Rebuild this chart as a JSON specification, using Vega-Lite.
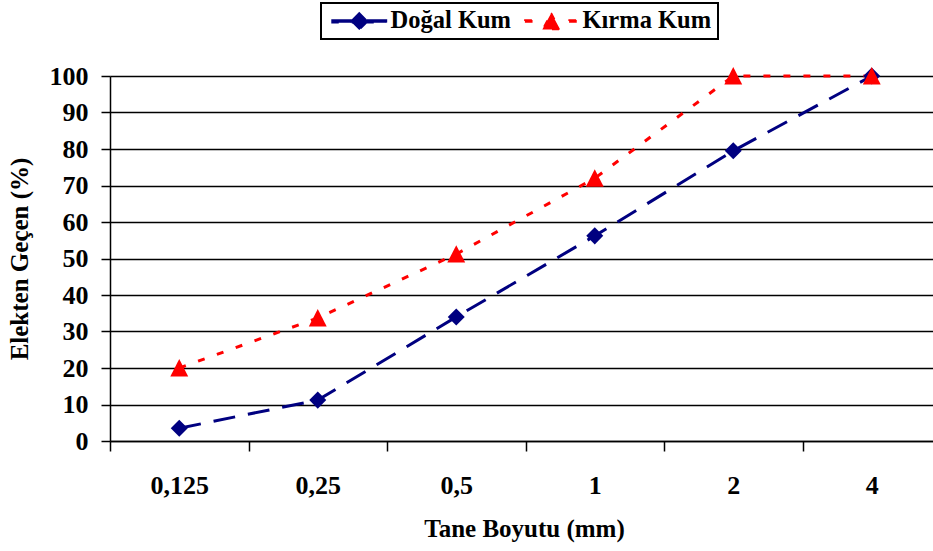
{
  "$schema": "https://vega.github.io/schema/vega-lite/v6.json",
  "width": 823,
  "height": 365,
  "autosize": {"type": "none"},
  "padding": {"left": 110, "top": 76, "right": 0, "bottom": 110},
  "background": "white",
  "data": {
    "values": [
      {"boyut": "0,125", "seri": "Doğal Kum", "gecen": 3.5},
      {"boyut": "0,25", "seri": "Doğal Kum", "gecen": 11.2},
      {"boyut": "0,5", "seri": "Doğal Kum", "gecen": 34},
      {"boyut": "1", "seri": "Doğal Kum", "gecen": 56.2},
      {"boyut": "2", "seri": "Doğal Kum", "gecen": 79.5},
      {"boyut": "4", "seri": "Doğal Kum", "gecen": 100},
      {"boyut": "0,125", "seri": "Kırma Kum", "gecen": 20},
      {"boyut": "0,25", "seri": "Kırma Kum", "gecen": 33.7},
      {"boyut": "0,5", "seri": "Kırma Kum", "gecen": 51.2},
      {"boyut": "1", "seri": "Kırma Kum", "gecen": 72},
      {"boyut": "2", "seri": "Kırma Kum", "gecen": 100},
      {"boyut": "4", "seri": "Kırma Kum", "gecen": 100}
    ]
  },
  "encoding": {
    "x": {
      "field": "boyut",
      "type": "ordinal",
      "sort": null,
      "scale": {"type": "band", "range": [0, 831], "paddingInner": 0, "paddingOuter": 0},
      "axis": {
        "title": "Tane Boyutu (mm)",
        "labelAngle": 0,
        "tickBand": "extent",
        "tickSize": 10,
        "tickWidth": 1.5,
        "tickColor": "#000000",
        "domainColor": "#000000",
        "domainWidth": 1.5,
        "labelPadding": 21,
        "titlePadding": 18,
        "titleX": 414
      }
    },
    "y": {
      "field": "gecen",
      "type": "quantitative",
      "scale": {"domain": [0, 100], "nice": false},
      "axis": {
        "title": "Elekten Geçen (%)",
        "values": [0, 10, 20, 30, 40, 50, 60, 70, 80, 90, 100],
        "grid": true,
        "gridColor": "#000000",
        "gridWidth": 1.5,
        "tickSize": 9,
        "tickWidth": 1.5,
        "tickColor": "#000000",
        "domainColor": "#000000",
        "domainWidth": 1.5,
        "labelPadding": 13,
        "titlePadding": 17
      }
    },
    "color": {
      "field": "seri",
      "type": "nominal",
      "scale": {"domain": ["Doğal Kum", "Kırma Kum"], "range": ["#000080", "#FF0000"]},
      "legend": {
        "title": null,
        "orient": "none",
        "legendX": 211,
        "legendY": -73,
        "direction": "horizontal",
        "columns": 2,
        "padding": 6,
        "strokeColor": "#000000",
        "fillColor": "#FFFFFF",
        "symbolSize": 289,
        "symbolOffset": 20,
        "labelOffset": 19,
        "columnPadding": 8
      }
    }
  },
  "layer": [
    {
      "mark": {"type": "line", "strokeWidth": 3},
      "encoding": {
        "strokeDash": {
          "field": "seri",
          "type": "nominal",
          "scale": {"domain": ["Doğal Kum", "Kırma Kum"], "range": [[22, 13], [7, 13]]},
          "legend": null
        }
      }
    },
    {
      "transform": [{"filter": "datum.seri === 'Doğal Kum'"}],
      "mark": {"type": "point", "filled": true, "opacity": 1, "size": 290, "shape": "diamond"}
    },
    {
      "transform": [{"filter": "datum.seri === 'Kırma Kum'"}],
      "mark": {"type": "point", "filled": true, "opacity": 1, "size": 320, "shape": "M0,-1L1,0.95L-1,0.95Z"}
    },
    {
      "transform": [{"filter": "false"}],
      "mark": {"type": "point", "filled": true, "opacity": 1, "size": 289},
      "encoding": {
        "shape": {
          "field": "seri",
          "type": "nominal",
          "scale": {
            "domain": ["Doğal Kum", "Kırma Kum"],
            "range": [
              "M-3.2,-0.17H3.2V0.17H-3.2ZM0,-1L1,0L0,1L-1,0Z",
              "M-3.1,-0.17H-2.2V0.17H-3.1ZM2.1,-0.17H3.0V0.17H2.1ZM0,-1L1.05,0.95L-1.05,0.95Z"
            ]
          }
        }
      }
    }
  ],
  "config": {
    "view": {"stroke": null},
    "font": "Liberation Serif, Times New Roman, serif",
    "axis": {
      "labelFont": "Liberation Serif, Times New Roman, serif",
      "labelFontSize": 26,
      "labelFontWeight": "bold",
      "labelColor": "#000000",
      "titleFont": "Liberation Serif, Times New Roman, serif",
      "titleFontSize": 25,
      "titleFontWeight": "bold",
      "titleColor": "#000000"
    },
    "legend": {
      "labelFont": "Liberation Serif, Times New Roman, serif",
      "labelFontSize": 24.5,
      "labelFontWeight": "bold",
      "labelColor": "#000000",
      "strokeWidth": 2
    }
  }
}
